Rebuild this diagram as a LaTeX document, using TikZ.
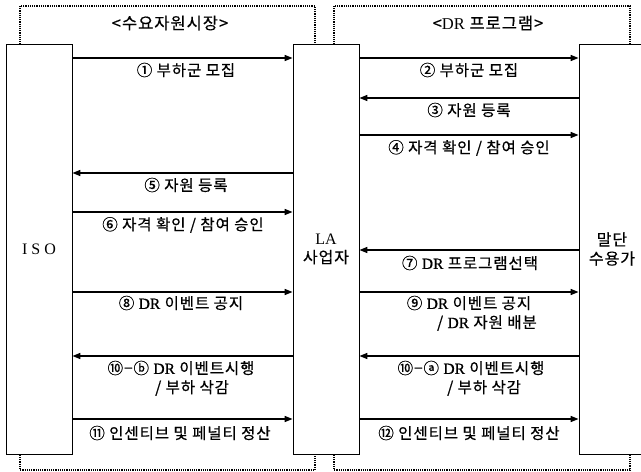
\documentclass[tikz,border=0pt]{standalone}
\usepackage{fontspec}
\setmainfont{Noto Sans CJK KR}[LetterSpace=6,FakeBold=0.6]
\newfontfamily\lat{Liberation Serif}[FakeBold=0.6]
\newfontfamily\krplain{Noto Sans CJK KR}[LetterSpace=6,FakeBold=0.3]
\newfontfamily\latplain{Liberation Serif}
\usetikzlibrary{arrows.meta}
\begin{document}
\begin{tikzpicture}[x=1pt,y=-1pt,
  box/.style={draw=black, line width=0.8pt, fill=white, minimum width=66pt, minimum height=410pt, inner sep=0pt, align=center, font=\krplain\fontsize{16}{19}\selectfont},
  grp/.style={draw=black, line width=1.3pt, dash pattern=on 1.2pt off 1pt},
  arr/.style={line width=1.5pt, -{Triangle[length=8pt,width=6pt]}},
  lbl/.style={font=\fontsize{15.5}{18}\selectfont, inner sep=0pt},
  ttl/.style={font=\krplain\fontsize{16.5}{18}\selectfont, inner sep=0pt}]
\useasboundingbox (0,0) rectangle (641,472);
\draw[grp] (20,6) rectangle (315,470);
\draw[grp] (334,6) rectangle (630,470);
\node[ttl] (t1) at (170,23) {<수요자원시장>};
\node[ttl] (t2) at (488,23) {<{\latplain DR} 프로그램>};
\node[box] (iso) at (39,249) {{\latplain I S O}};
\node[box] (la) at (326,249) {{\latplain LA}\\사업자};
\node[box] (eu) at (612,249) {말단\\수용가};
% left side
\draw[arr] (iso.east |- 0,58) -- (la.west |- 0,58);
\node[lbl] (l1) at (186,70) {① 부하군 모집};
\draw[arr] (la.west |- 0,173) -- (iso.east |- 0,173);
\node[lbl] (l5) at (186,185) {⑤ 자원 등록};
\draw[arr] (iso.east |- 0,212) -- (la.west |- 0,212);
\node[lbl] (l6) at (183,225) {⑥ 자격 확인 / 참여 승인};
\draw[arr] (iso.east |- 0,292) -- (la.west |- 0,292);
\node[lbl] (l8) at (181,303) {⑧ {\lat DR} 이벤트 공지};
\draw[arr] (la.west |- 0,356) -- (iso.east |- 0,356);
\node[lbl] (l10b) at (181,368) {⑩−ⓑ {\lat DR} 이벤트시행};
\node[lbl,anchor=west] (l10b2) at (155,388) {/ 부하 삭감};
\draw[arr] (iso.east |- 0,419) -- (la.west |- 0,419);
\node[lbl] (l11) at (180,433) {⑪ 인센티브 및 페널티 정산};
% right side
\draw[arr] (la.east |- 0,58) -- (eu.west |- 0,58);
\node[lbl] (l2) at (469,70) {② 부하군 모집};
\draw[arr] (eu.west |- 0,98) -- (la.east |- 0,98);
\node[lbl] (l3) at (469,110) {③ 자원 등록};
\draw[arr] (la.east |- 0,135) -- (eu.west |- 0,135);
\node[lbl] (l4) at (469,148) {④ 자격 확인 / 참여 승인};
\draw[arr] (eu.west |- 0,250) -- (la.east |- 0,250);
\node[lbl] (l7) at (470,263) {⑦ {\lat DR} 프로그램선택};
\draw[arr] (la.east |- 0,292) -- (eu.west |- 0,292);
\node[lbl] (l9) at (469,303) {⑨ {\lat DR} 이벤트 공지};
\node[lbl,anchor=east] (l92) at (537,323) {/ {\lat DR} 자원 배분};
\draw[arr] (eu.west |- 0,356) -- (la.east |- 0,356);
\node[lbl] (l10a) at (471,368) {⑩−ⓐ {\lat DR} 이벤트시행};
\node[lbl,anchor=west] (l10a2) at (447,388) {/ 부하 삭감};
\draw[arr] (la.east |- 0,419) -- (eu.west |- 0,419);
\node[lbl] (l12) at (469,433) {⑫ 인센티브 및 페널티 정산};
\end{tikzpicture}
\end{document}
